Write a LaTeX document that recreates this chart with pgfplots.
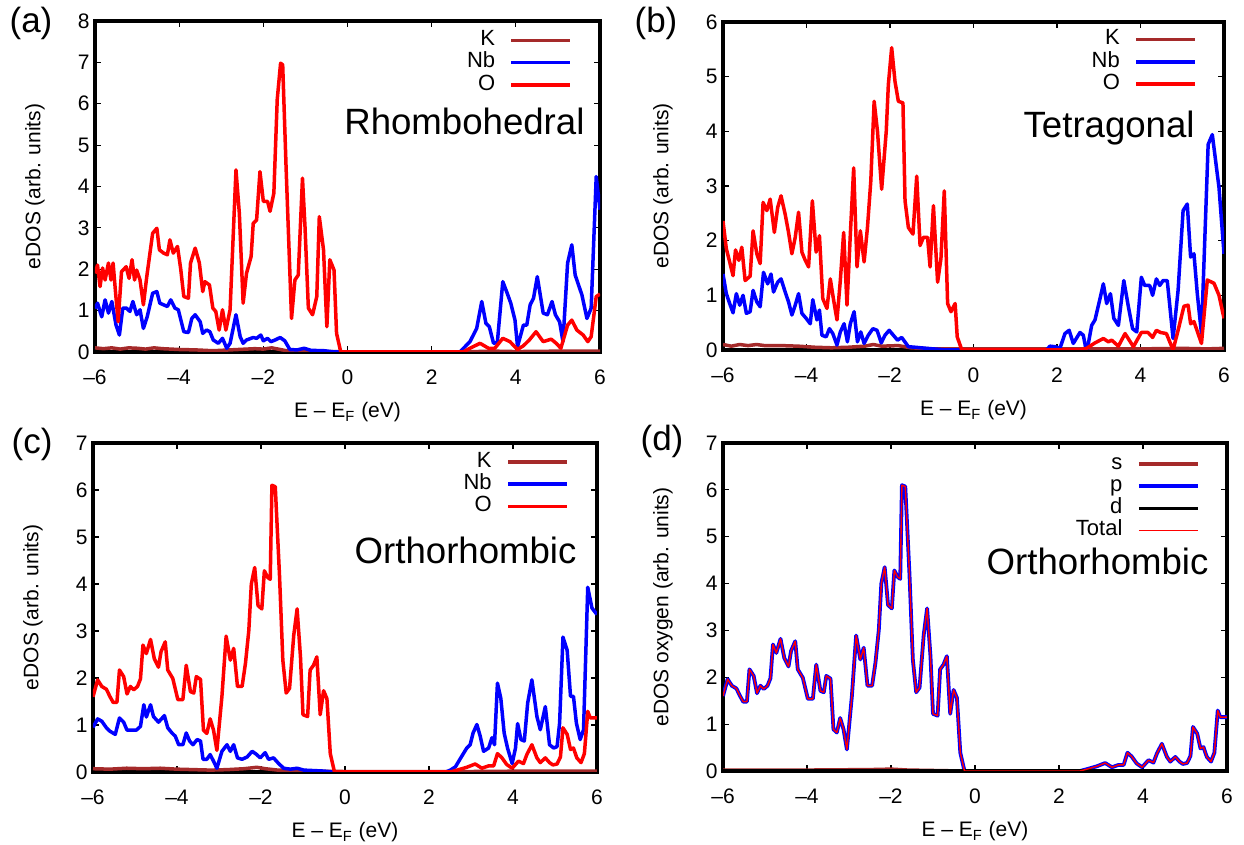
\documentclass[border=0pt]{standalone}
\usepackage{fontspec}
\setmainfont{Liberation Sans}
\usepackage{pgfplots}
\usepackage{pgfplotstable}
\pgfplotsset{compat=1.18}

\definecolor{kbrown}{RGB}{165,42,42}

% ---- (a) Rhombohedral ----
\pgfplotstableread{
x y
-6.00 0.10
-5.80 0.08
-5.60 0.10
-5.40 0.07
-5.20 0.10
-5.00 0.09
-4.80 0.07
-4.60 0.10
-4.40 0.08
-4.20 0.07
-4.00 0.06
-3.60 0.05
-3.20 0.03
-3.00 0.04
-2.60 0.06
-2.20 0.08
-2.00 0.07
-1.80 0.10
-1.60 0.06
-1.40 0.02
-1.00 0.01
0.00 0.005
2.80 0.005
3.50 0.02
4.00 0.01
5.00 0.02
6.00 0.02
}\aK
\pgfplotstableread{
x y
-6.00 1.05
-5.94 1.18
-5.84 0.85
-5.76 1.26
-5.68 0.94
-5.60 1.22
-5.50 0.65
-5.42 0.41
-5.34 1.06
-5.25 1.06
-5.17 0.98
-5.10 1.22
-5.01 0.90
-4.93 1.02
-4.85 0.57
-4.76 0.85
-4.63 1.42
-4.53 1.46
-4.46 1.18
-4.28 1.10
-4.20 1.26
-4.10 1.06
-4.02 1.02
-3.89 0.49
-3.78 0.47
-3.70 0.81
-3.62 0.90
-3.50 0.73
-3.44 0.45
-3.35 0.53
-3.27 0.49
-3.19 0.29
-3.07 0.21
-2.97 0.33
-2.87 0.09
-2.79 0.21
-2.65 0.90
-2.55 0.37
-2.48 0.21
-2.40 0.29
-2.24 0.35
-2.16 0.33
-2.06 0.41
-2.00 0.27
-1.90 0.33
-1.82 0.25
-1.72 0.29
-1.60 0.35
-1.49 0.27
-1.37 0.06
-1.20 0.05
-1.03 0.09
-0.87 0.04
-0.55 0.03
-0.30 0.00
2.67 0.00
2.91 0.25
3.07 0.57
3.19 1.22
3.29 0.69
3.37 0.61
3.47 0.21
3.56 0.23
3.69 1.70
3.78 1.46
3.88 1.18
3.98 0.77
4.04 0.13
4.18 0.65
4.26 0.65
4.34 1.14
4.42 1.30
4.51 1.82
4.65 0.94
4.75 0.90
4.86 1.22
4.94 0.90
5.04 0.73
5.12 0.25
5.23 2.15
5.33 2.59
5.41 1.86
5.57 1.38
5.69 0.81
5.79 1.06
5.91 4.24
6.00 3.44
}\aNb
\pgfplotstableread{
x y
-6.00 1.90
-5.94 2.10
-5.88 1.58
-5.82 2.03
-5.76 1.74
-5.68 2.15
-5.62 1.74
-5.57 2.15
-5.51 1.42
-5.45 0.73
-5.37 1.94
-5.26 2.06
-5.19 1.78
-5.12 2.23
-5.06 1.74
-5.01 1.98
-4.93 1.74
-4.85 1.14
-4.77 1.82
-4.63 2.87
-4.53 2.99
-4.47 2.47
-4.37 2.39
-4.28 2.35
-4.22 2.71
-4.14 2.39
-4.04 2.55
-3.96 1.98
-3.89 1.34
-3.78 1.30
-3.73 2.15
-3.62 2.51
-3.52 2.15
-3.44 1.46
-3.39 1.70
-3.28 1.62
-3.20 1.06
-3.13 0.98
-3.05 0.53
-2.97 1.02
-2.89 0.53
-2.79 1.02
-2.65 4.40
-2.57 3.35
-2.48 1.18
-2.40 1.90
-2.29 2.31
-2.24 3.11
-2.16 3.19
-2.08 4.36
-2.00 3.64
-1.90 3.64
-1.84 3.40
-1.75 3.84
-1.67 6.10
-1.59 6.98
-1.54 6.94
-1.46 4.48
-1.33 0.81
-1.25 1.74
-1.17 1.86
-1.07 4.20
-1.01 3.03
-0.93 1.06
-0.83 0.90
-0.73 1.34
-0.67 3.27
-0.57 2.47
-0.49 0.61
-0.42 2.23
-0.32 1.98
-0.26 0.45
-0.16 0.00
2.75 0.00
2.91 0.09
3.15 0.21
3.35 0.09
3.50 0.09
3.69 0.33
3.86 0.25
4.04 0.06
4.18 0.15
4.32 0.29
4.48 0.49
4.65 0.25
4.84 0.31
4.96 0.21
5.07 0.09
5.23 0.65
5.33 0.77
5.45 0.53
5.60 0.41
5.71 0.25
5.79 0.37
5.91 1.34
6.00 1.40
}\aO

% ---- (b) Tetragonal ----
\pgfplotstableread{
x y
-6.00 0.10
-5.80 0.07
-5.60 0.10
-5.40 0.08
-5.20 0.10
-5.00 0.08
-4.60 0.08
-4.20 0.07
-3.80 0.05
-3.40 0.04
-3.00 0.05
-2.60 0.07
-2.40 0.10
-2.20 0.07
-1.80 0.08
-1.50 0.04
-1.00 0.02
0.00 0.02
2.00 0.02
4.00 0.02
5.00 0.03
5.60 0.02
6.00 0.03
}\bK
\pgfplotstableread{
x y
-6.00 1.39
-5.92 1.03
-5.84 0.85
-5.76 0.68
-5.68 1.03
-5.60 0.82
-5.52 1.00
-5.44 0.67
-5.35 0.70
-5.28 1.09
-5.19 0.88
-5.11 0.79
-5.03 1.42
-4.93 1.21
-4.85 1.39
-4.79 1.06
-4.69 1.24
-4.61 1.30
-4.51 1.06
-4.43 0.88
-4.35 0.64
-4.27 0.82
-4.19 1.03
-4.11 0.67
-4.01 0.58
-3.91 0.48
-3.85 0.92
-3.75 0.55
-3.69 0.73
-3.63 0.27
-3.53 0.24
-3.45 0.39
-3.37 0.30
-3.27 0.09
-3.19 0.33
-3.10 0.48
-3.02 0.15
-2.95 0.48
-2.86 0.70
-2.78 0.15
-2.70 0.33
-2.62 0.12
-2.52 0.27
-2.41 0.39
-2.31 0.36
-2.21 0.13
-2.12 0.27
-2.02 0.36
-1.92 0.27
-1.82 0.18
-1.72 0.23
-1.56 0.06
-1.40 0.05
-1.12 0.03
-0.64 0.00
1.75 0.00
1.83 0.07
1.95 0.06
2.07 0.03
2.19 0.30
2.29 0.36
2.39 0.12
2.55 0.32
2.63 0.27
2.71 -0.05
2.83 0.45
2.91 0.55
3.03 0.94
3.11 1.21
3.19 0.85
3.28 1.03
3.36 0.58
3.47 0.45
3.60 1.27
3.71 0.79
3.81 0.39
3.91 0.33
4.02 1.33
4.10 1.18
4.22 1.18
4.29 1.00
4.38 1.30
4.46 1.18
4.54 1.27
4.64 1.27
4.70 0.82
4.78 0.21
4.90 1.09
5.02 2.55
5.12 2.67
5.20 1.70
5.28 1.76
5.36 1.03
5.46 0.30
5.62 3.76
5.72 3.94
5.88 2.97
6.00 1.76
}\bNb
\pgfplotstableread{
x y
-6.00 2.36
-5.92 1.85
-5.84 1.61
-5.76 1.36
-5.70 1.83
-5.62 1.64
-5.55 1.88
-5.47 1.27
-5.35 1.35
-5.28 2.18
-5.19 1.76
-5.11 1.58
-5.04 2.70
-4.95 2.55
-4.87 2.76
-4.77 2.15
-4.69 2.61
-4.61 2.82
-4.51 2.48
-4.43 2.15
-4.35 1.76
-4.27 2.06
-4.19 2.52
-4.11 1.79
-4.03 1.64
-3.95 1.52
-3.86 2.73
-3.77 1.79
-3.69 2.09
-3.61 0.94
-3.51 0.76
-3.43 1.30
-3.35 0.91
-3.27 0.55
-3.19 1.27
-3.11 2.15
-3.03 0.82
-2.95 2.12
-2.87 3.33
-2.79 1.52
-2.71 2.18
-2.62 1.61
-2.54 2.24
-2.46 3.09
-2.38 4.55
-2.30 4.00
-2.20 2.94
-2.09 4.00
-2.04 4.85
-1.96 5.53
-1.88 4.91
-1.80 4.55
-1.69 4.52
-1.64 2.73
-1.56 2.24
-1.45 2.12
-1.36 3.18
-1.28 1.91
-1.20 2.06
-1.10 2.06
-1.04 1.52
-0.96 2.64
-0.86 1.24
-0.78 1.67
-0.70 2.91
-0.62 0.85
-0.54 0.70
-0.44 0.85
-0.39 0.24
-0.28 0.00
2.55 0.00
2.71 0.03
2.91 0.13
3.11 0.21
3.23 0.15
3.31 0.18
3.47 0.07
3.63 0.30
3.83 0.06
4.02 0.32
4.18 0.32
4.29 0.23
4.38 0.36
4.48 0.32
4.62 0.30
4.78 0.00
4.90 0.36
5.04 0.80
5.14 0.82
5.20 0.48
5.28 0.52
5.46 0.12
5.60 1.28
5.76 1.22
5.88 1.00
6.00 0.58
}\bO

% ---- (c) Orthorhombic ----
\pgfplotstableread{
x y
-6.00 0.07
-5.60 0.06
-5.20 0.08
-4.80 0.07
-4.40 0.08
-4.00 0.06
-3.60 0.05
-3.20 0.04
-2.80 0.05
-2.40 0.07
-2.10 0.10
-1.90 0.07
-1.60 0.04
-1.00 0.02
0.00 0.01
3.00 0.01
4.50 0.02
6.00 0.02
}\cK
\pgfplotstableread{
x y
-6.00 0.95
-5.89 1.13
-5.79 1.08
-5.68 0.94
-5.60 0.87
-5.47 0.80
-5.37 1.15
-5.27 1.06
-5.19 0.89
-5.07 0.89
-4.97 0.89
-4.87 0.97
-4.79 1.43
-4.73 1.17
-4.63 1.43
-4.56 1.18
-4.44 1.06
-4.30 1.20
-4.22 0.94
-4.12 0.83
-4.04 0.76
-3.96 0.58
-3.86 0.58
-3.78 0.83
-3.70 0.66
-3.62 0.58
-3.52 0.69
-3.44 0.66
-3.38 0.27
-3.29 0.27
-3.21 0.37
-3.13 0.23
-3.05 0.08
-2.93 0.44
-2.81 0.58
-2.73 0.44
-2.65 0.58
-2.56 0.30
-2.45 0.27
-2.33 0.32
-2.21 0.44
-2.10 0.37
-2.02 0.30
-1.90 0.41
-1.82 0.27
-1.70 0.30
-1.58 0.18
-1.46 0.08
-1.30 0.06
-1.14 0.08
-0.98 0.04
-0.51 0.02
-0.27 0.00
2.40 0.00
2.51 0.04
2.63 0.11
2.75 0.29
2.90 0.51
2.98 0.58
3.05 0.83
3.14 1.01
3.22 0.76
3.30 0.44
3.42 0.51
3.50 0.73
3.56 0.58
3.63 1.89
3.71 1.57
3.79 0.83
3.87 0.51
3.98 0.18
4.06 0.51
4.11 1.03
4.19 0.69
4.27 0.66
4.35 1.47
4.45 1.96
4.57 1.18
4.65 0.90
4.77 1.39
4.87 0.58
4.97 0.51
5.05 0.54
5.11 1.04
5.19 2.87
5.29 2.59
5.37 1.61
5.44 1.61
5.51 1.04
5.60 0.69
5.68 0.90
5.78 3.93
5.88 3.49
6.00 3.35
}\cNb
\pgfplotstableread{
x y
-6.00 1.60
-5.89 1.96
-5.79 1.82
-5.68 1.76
-5.60 1.61
-5.52 1.48
-5.43 1.48
-5.37 2.17
-5.27 2.03
-5.19 1.66
-5.11 1.82
-5.03 1.75
-4.94 1.82
-4.87 1.98
-4.81 2.70
-4.73 2.52
-4.63 2.82
-4.54 2.41
-4.44 2.23
-4.38 2.56
-4.28 2.77
-4.22 2.17
-4.10 1.99
-3.98 1.54
-3.86 1.54
-3.78 2.27
-3.68 1.71
-3.60 1.68
-3.54 2.03
-3.44 1.97
-3.37 0.89
-3.29 0.82
-3.21 1.13
-3.13 0.89
-3.05 0.46
-2.93 1.61
-2.83 2.89
-2.73 2.38
-2.65 2.63
-2.56 1.82
-2.45 1.82
-2.37 2.31
-2.29 3.01
-2.23 4.00
-2.15 4.35
-2.07 3.54
-1.98 3.47
-1.92 4.28
-1.84 4.14
-1.78 4.10
-1.74 6.10
-1.66 6.07
-1.56 4.20
-1.48 2.38
-1.40 1.68
-1.32 1.78
-1.22 2.91
-1.14 3.47
-1.06 2.45
-1.00 1.22
-0.89 1.18
-0.83 2.17
-0.75 2.27
-0.67 2.45
-0.59 1.22
-0.51 1.73
-0.43 1.56
-0.35 0.39
-0.25 0.00
2.50 0.00
2.67 0.04
2.90 0.10
3.10 0.17
3.26 0.08
3.42 0.13
3.54 0.13
3.63 0.39
3.73 0.31
3.85 0.16
3.98 0.08
4.13 0.23
4.25 0.18
4.33 0.37
4.45 0.58
4.57 0.30
4.65 0.20
4.77 0.30
4.87 0.20
4.95 0.15
5.05 0.17
5.13 0.32
5.19 0.94
5.29 0.80
5.37 0.48
5.44 0.51
5.52 0.30
5.62 0.20
5.70 0.39
5.78 1.29
5.84 1.15
6.00 1.15
}\cO

% ---- (d) oxygen orbitals ----
\pgfplotstableread{
x y
-6.00 0.02
-4.00 0.02
-2.50 0.03
-2.00 0.04
-1.60 0.02
-0.30 0.00
6.00 0.00
}\dS
\pgfplotstableread{
x y
-6.00 0.00
6.00 0.00
}\dD

\tikzset{ttl/.style={anchor=base east, inner sep=0pt, font=\fontsize{18.3}{21}\selectfont}}

\pgfplotsset{
  dos/.style={
    scale only axis,
    xmin=-6, xmax=6, ymin=0,
    xtick={-6,-4,-2,0,2,4,6},
    xticklabels={–6,–4,–2,0,2,4,6},
    ytick distance=1,
    tick align=inside,
    major tick length=3pt,
    axis line style={line width=1.6pt},
    every tick/.style={black, line width=0.6pt},
    tick label style={font=\fontsize{10.5}{12}\selectfont},
    /pgf/number format/assume math mode=true,
    xticklabel style={anchor=base, yshift=-16.5pt},
    yticklabel style={anchor=east, inner sep=0pt, xshift=-2.5pt},
    xlabel={E – E\textsubscript{F} (eV)},
    xlabel style={at={([yshift=-33pt]axis description cs:0.5,0)}, anchor=base,
      font=\fontsize{10.5}{12}\selectfont},
    ylabel style={at={([xshift=-30pt]axis description cs:0,0.5)}, anchor=center,
      font=\fontsize{10.5}{12}\selectfont},
    legend cell align=right,
    legend plot pos=right,
    legend image code/.code={\draw[##1] (0pt,0pt) -- (29.5pt,0pt);},
    legend style={draw=none, fill=none, anchor=north east,
      inner sep=0pt, outer sep=0pt,
      font=\fontsize{11}{11}\selectfont,
      row sep=0pt, column sep=7pt,
      nodes={inner sep=0.3pt, text height=7.9pt, text depth=2.6pt}},
    every axis plot/.append style={line join=round},
  },
  lK/.style={kbrown, line width=1.75pt},
  lNb/.style={blue, line width=1.75pt},
  lO/.style={red, line width=1.75pt},
}

\begin{document}
\begin{tikzpicture}
\path[use as bounding box] (0,0) rectangle (622pt,422.5pt);

% (a)
\begin{axis}[dos, at={(47.5pt,246.5pt)}, anchor=south west,
  width=252.5pt, height=165.5pt, ymax=8,
  ylabel={eDOS (arb. units)},
  legend style={at={(0.945,0.975)}}]
  \addplot[lK] table {\aK}; \addlegendentry{K}
  \addplot[lNb] table {\aNb}; \addlegendentry{Nb}
  \addplot[lO] table {\aO}; \addlegendentry{O}
  \node[ttl] at (rel axis cs:0.970,0.656) {Rhombohedral};
\end{axis}

% (b)
\begin{axis}[dos, at={(361.5pt,247.5pt)}, anchor=south west,
  width=250.5pt, height=164pt, ymax=6,
  ylabel={eDOS (arb. units)},
  legend style={at={(0.946,0.98)}}]
  \addplot[lK] table {\bK}; \addlegendentry{K}
  \addplot[lNb] table {\bNb}; \addlegendentry{Nb}
  \addplot[lO] table {\bO}; \addlegendentry{O}
  \node[ttl] at (rel axis cs:0.942,0.649) {Tetragonal};
\end{axis}

% (c)
\begin{axis}[dos, at={(46.5pt,36.5pt)}, anchor=south west,
  width=252pt, height=164.5pt, ymax=7,
  ylabel={eDOS (arb. units)},
  legend style={at={(0.944,0.976)}}]
  \addplot[lK] table {\cK}; \addlegendentry{K}
  \addplot[lNb] table {\cNb}; \addlegendentry{Nb}
  \addplot[lO] table {\cO}; \addlegendentry{O}
  \node[ttl] at (rel axis cs:0.960,0.635) {Orthorhombic};
\end{axis}

% (d)
\begin{axis}[dos, at={(361.5pt,37pt)}, anchor=south west,
  width=252pt, height=164pt, ymax=7,
  ylabel={eDOS oxygen (arb. units)},
  legend style={at={(0.946,0.97)}}]
  \addplot[lK] table {\dS}; \addlegendentry{s}
  \addplot[blue, line width=1.9pt] table {\cO}; \addlegendentry{p}
  \addplot[black, line width=1.75pt] table {\dD}; \addlegendentry{d}
  \addplot[red, line width=0.7pt] table {\cO}; \addlegendentry{Total}
  \node[ttl] at (rel axis cs:0.964,0.598) {Orthorhombic};
\end{axis}

\node[font=\fontsize{17.5}{20}\selectfont] at (15.5pt,411pt) {(a)};
\node[font=\fontsize{17.5}{20}\selectfont] at (328pt,411pt) {(b)};
\node[font=\fontsize{17.5}{20}\selectfont] at (16pt,200.5pt) {(c)};
\node[font=\fontsize{17.5}{20}\selectfont] at (331pt,202pt) {(d)};
\end{tikzpicture}
\end{document}
